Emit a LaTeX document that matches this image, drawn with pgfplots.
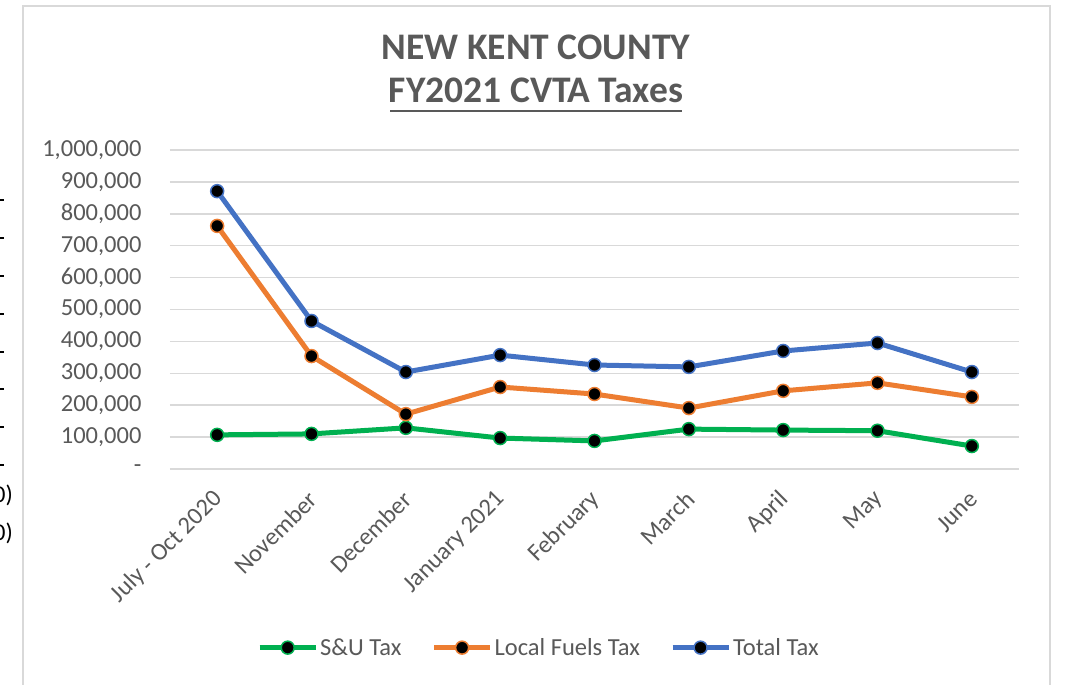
\documentclass[border=0pt]{standalone}
\usepackage{fontspec}
\setmainfont{Carlito}
\usepackage{pgfplots}
\pgfplotsset{compat=1.18}

\definecolor{sugreen}{HTML}{00B050}
\definecolor{fuelorange}{HTML}{ED7D31}
\definecolor{totalblue}{HTML}{4472C4}
\definecolor{txtgray}{HTML}{595959}
\definecolor{gridgray}{HTML}{D9D9D9}

\begin{document}
\begin{tikzpicture}[x=1pt,y=1pt]
\useasboundingbox (0,0) rectangle (1066,685);
\fill[white] (0,0) rectangle (1066,685);

% chart frame (cut off at the bottom)
\draw[gridgray, line width=2pt] (23,-5) -- (23,679) -- (1050,679) -- (1050,-5);

% bits of the sheet left of the chart
\foreach \yy in {200,238,276,314,352,389,427,465}
  \draw[black, line width=1.2pt] (0,685-\yy) -- (4,685-\yy);
\node[anchor=east, inner sep=0pt, font=\fontsize{24}{28}\selectfont] at (13,685-495) {0)};
\node[anchor=east, inner sep=0pt, font=\fontsize{24}{28}\selectfont] at (13,685-533) {0)};

% title
\node[anchor=base, inner sep=0pt, text=txtgray, font=\bfseries\fontsize{37.5}{42}\selectfont] at (536,625) {NEW KENT COUNTY};
\node[anchor=base, inner sep=0pt, text=txtgray, font=\bfseries\fontsize{37.5}{42}\selectfont] at (536,582) {FY2021 CVTA Taxes};
\draw[txtgray, line width=2pt] (390,685-111) -- (682,685-111);

\begin{axis}[
    at={(170pt,216pt)}, anchor=south west,
    scale only axis, width=849pt, height=319pt,
    xmin=-0.5, xmax=8.5, ymin=0, ymax=1000000,
    axis line style={draw=none},
    major tick length=0pt,
    xtick={0,...,8},
    xticklabels={July - Oct 2020, November, December, January 2021, February, March, April, May, June},
    ytick={0,100000,200000,300000,400000,500000,600000,700000,800000,900000,1000000},
    yticklabels={{-},{100,000},{200,000},{300,000},{400,000},{500,000},{600,000},{700,000},{800,000},{900,000},{1,000,000}},
    scaled y ticks=false,
    ymajorgrids,
    grid style={gridgray, line width=1.5pt},
    tick label style={font=\fontsize{24.5}{28}\selectfont, text=txtgray},
    yticklabel style={anchor=east, xshift=-25pt},
    xticklabel style={rotate=45, anchor=east, yshift=-19.7pt, xshift=-14.3pt},
    clip=false,
    legend columns=3,
    legend style={draw=none, fill=none, at={(0.4346,-0.56)}, anchor=center,
        font=\fontsize{24.5}{28}\selectfont, text=txtgray,
        /tikz/every even column/.append style={column sep=28pt}},
    legend image code/.code={\draw[mark repeat=2, mark phase=2, #1] plot coordinates {(0pt,0pt) (28pt,0pt) (56pt,0pt)};},
]
\addplot[sugreen, line width=5pt, mark=*, mark size=6.5pt,
    mark options={fill=black, draw=sugreen, line width=1.5pt}] coordinates {
    (0,107000) (1,110000) (2,129000) (3,97000) (4,88000)
    (5,125000) (6,122000) (7,120000) (8,72000)
};
\addlegendentry{S\&U Tax}
\addplot[fuelorange, line width=5pt, mark=*, mark size=6.5pt,
    mark options={fill=black, draw=fuelorange, line width=1.5pt}] coordinates {
    (0,762000) (1,354000) (2,172000) (3,257000) (4,235000)
    (5,191000) (6,245000) (7,270000) (8,226000)
};
\addlegendentry{Local Fuels Tax}
\addplot[totalblue, line width=5pt, mark=*, mark size=6.5pt,
    mark options={fill=black, draw=totalblue, line width=1.5pt}] coordinates {
    (0,871000) (1,464000) (2,304000) (3,357000) (4,326000)
    (5,320000) (6,370000) (7,395000) (8,304000)
};
\addlegendentry{Total Tax}
\end{axis}
\end{tikzpicture}
\end{document}
